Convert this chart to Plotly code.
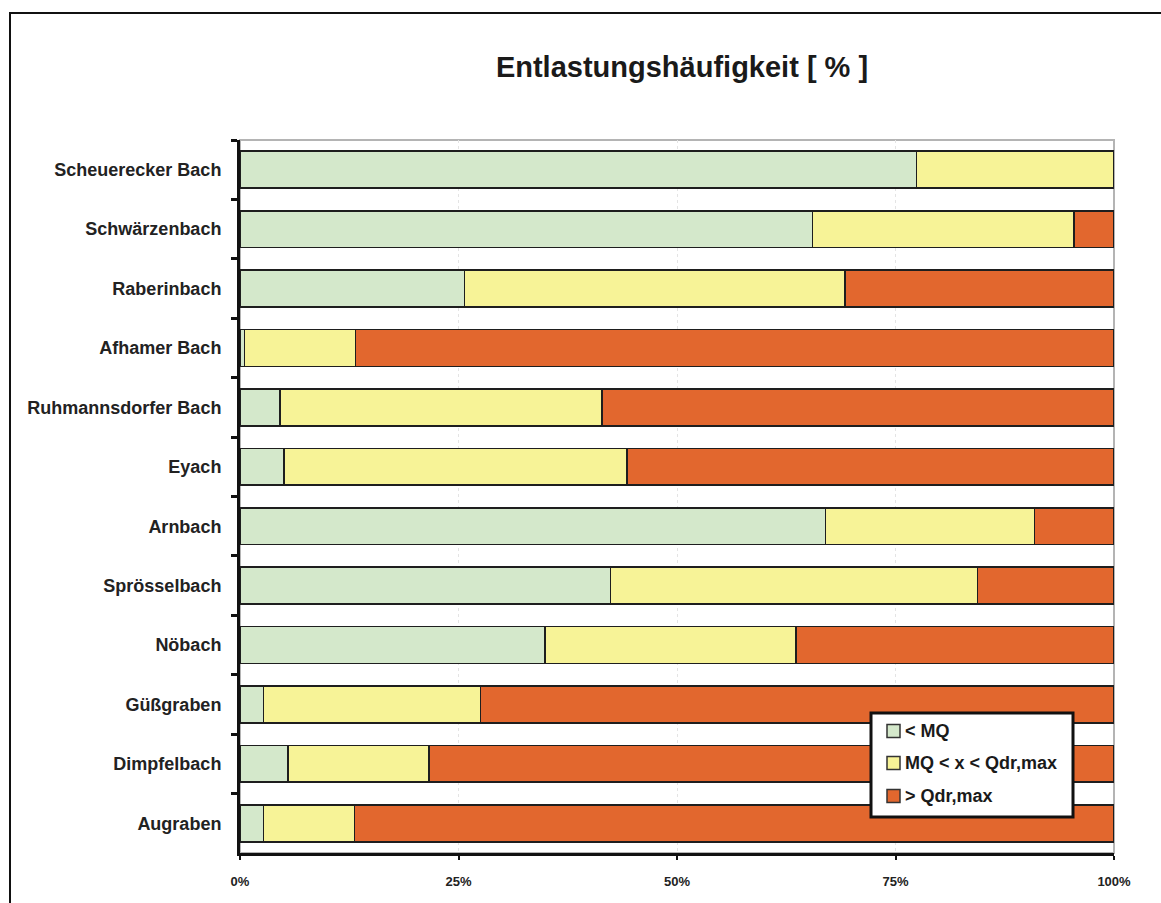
import plotly.graph_objects as go

# Gewässer, von oben nach unten
gewaesser = [
    "Scheuerecker Bach", "Schwärzenbach", "Raberinbach", "Afhamer Bach",
    "Ruhmannsdorfer Bach", "Eyach", "Arnbach", "Sprösselbach", "Nöbach",
    "Güßgraben", "Dimpfelbach", "Augraben",
]

# Anteile der Entlastungen je Abflussklasse [%]
unter_mq = [77.4, 65.5, 25.7, 0.5, 4.6, 5.0, 67.0, 42.4, 34.9, 2.7, 5.5, 2.7]
mq_bis_qdr = [22.6, 29.9, 43.5, 12.7, 36.8, 39.3, 23.9, 42.0, 28.7, 24.8, 16.1, 10.4]
ueber_qdr = [0.0, 4.6, 30.8, 86.8, 58.6, 55.7, 9.1, 15.6, 36.4, 72.5, 78.4, 86.9]

serien = [
    ("< MQ", unter_mq, "#d4e8cb"),
    ("MQ < x < Qdr,max", mq_bis_qdr, "#f7f397"),
    ("> Qdr,max", ueber_qdr, "#e2672e"),
]

x_ticks = [0, 25, 50, 75, 100]
x_ticklabels = ["0%", "25%", "50%", "75%", "100%"]

FONT = "Liberation Sans, Arial, sans-serif"
RAND = "#1e1e1e"

fig = go.Figure()
for name, werte, farbe in serien:
    fig.add_trace(go.Bar(
        y=gewaesser, x=werte, name=name, orientation="h", showlegend=False,
        marker=dict(color=farbe, line=dict(color=RAND, width=1.6)),
    ))

W, H = 1161, 903
L, R, T, B = 240, 47, 140, 50
pw, ph = W - L - R, H - T - B

def px_x(p):
    return (p - L) / pw

def px_y(p):
    return (H - B - p) / ph

shapes = [
    # Rahmen der Zeichenfläche (oben und rechts grau)
    dict(type="rect", xref="paper", yref="paper", x0=0, x1=1, y0=0, y1=1,
         line=dict(color="#b4b4b4", width=2), layer="below"),
    # Außenrahmen des Diagramms
    dict(type="rect", xref="paper", yref="paper",
         x0=px_x(10), x1=px_x(1180), y0=px_y(925), y1=px_y(13),
         line=dict(color="#111", width=2), fillcolor="rgba(0,0,0,0)"),
    # Legendenkasten
    dict(type="rect", xref="paper", yref="paper",
         x0=px_x(871), x1=px_x(1073), y0=px_y(817), y1=px_y(713),
         line=dict(color="#111", width=3), fillcolor="white", layer="above"),
]
annotations = []

# Legendeneinträge: Farbkästchen und Beschriftung
leg_y = [731, 763, 796]
for (name, _, farbe), yc in zip(serien, leg_y):
    shapes.append(dict(
        type="rect", xref="paper", yref="paper",
        x0=px_x(887), x1=px_x(900), y0=px_y(yc + 6.5), y1=px_y(yc - 6.5),
        line=dict(color="#333", width=1.5), fillcolor=farbe, layer="above",
    ))
    annotations.append(dict(
        text=name, xref="paper", yref="paper", x=px_x(903), y=px_y(yc),
        xanchor="left", yanchor="middle", showarrow=False,
        font=dict(family=FONT, size=18, weight="bold", color="#1a1a1a"),
    ))

fig.update_layout(
    width=W, height=H,
    margin=dict(l=L, r=R, t=T, b=B, pad=0),
    paper_bgcolor="white", plot_bgcolor="white",
    barmode="stack", bargap=0.38, showlegend=False,
    font=dict(family=FONT, color="#1a1a1a"),
    title=dict(
        text="Entlastungshäufigkeit [ % ]",
        font=dict(family=FONT, size=29, weight="bold", color="#1a1a1a"),
        x=px_x(682), xref="paper", xanchor="center",
        y=1 - 67 / H, yref="container", yanchor="middle",
    ),
    xaxis=dict(
        range=[0, 100], tickvals=x_ticks, ticktext=x_ticklabels,
        showgrid=True, gridcolor="#e4e4e4", griddash="dot", gridwidth=1,
        showline=True, linecolor="#111", linewidth=3,
        ticks="outside", ticklen=4, tickwidth=2, tickcolor="#111",
        ticklabelstandoff=10,
        tickfont=dict(family=FONT, size=13, weight="bold", color="#222"),
        zeroline=False, fixedrange=True,
    ),
    yaxis=dict(
        autorange="reversed", type="category",
        showline=True, linecolor="#111", linewidth=3,
        ticks="outside", ticklen=6, tickwidth=3, tickcolor="#111",
        tickson="boundaries", ticklabelstandoff=12,
        tickfont=dict(family=FONT, size=18, weight="bold", color="#222"),
        showgrid=False, zeroline=False, fixedrange=True,
    ),
    shapes=shapes,
    annotations=annotations,
)

fig.write_html("out.html")
